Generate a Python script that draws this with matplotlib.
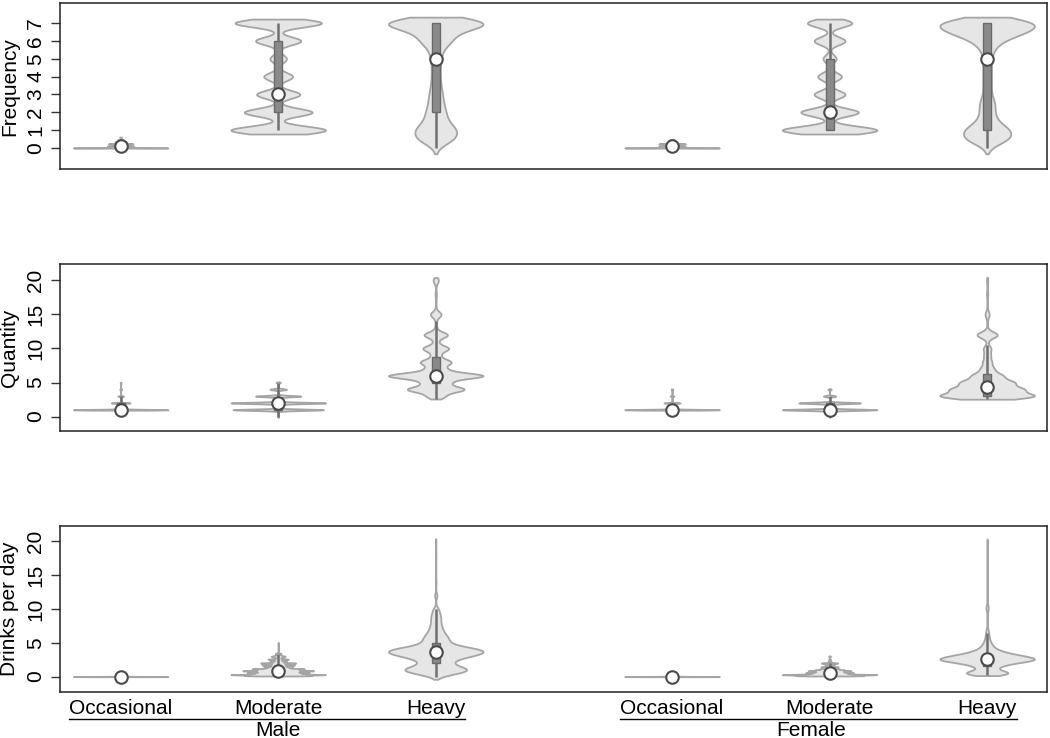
import numpy as np
import matplotlib
matplotlib.use("Agg")
import matplotlib.pyplot as plt
from matplotlib.lines import Line2D

plt.rcParams['font.family'] = ['Liberation Sans', 'DejaVu Sans']

# groups / categories
categories = ['Occasional', 'Moderate', 'Heavy', 'Occasional', 'Moderate', 'Heavy']
groups = ['Male', 'Female']
positions = [1, 2, 3, 4.5, 5.5, 6.5]

#############################################################################
#                   Frequency (days per week)
#############################################################################
freq_vals = [
    [0, 0.1, 0.23, 0.35, 0.47, 0.6],
    [1, 2, 3, 4, 5, 6, 7],
    [0, 0.5, 1, 1.5, 2, 2.5, 3, 3.5, 4, 4.5, 5, 5.5, 6, 6.5, 7],
    [0, 0.1, 0.23, 0.47],
    [1, 2, 3, 4, 5, 6, 7],
    [0, 0.5, 1, 1.5, 2, 2.5, 3, 3.5, 4, 4.5, 5, 5.5, 6, 6.5, 7],
]
freq_counts = [
    [100, 28, 26, 12, 6, 2],
    [46, 33, 21, 14, 8, 22, 42],
    [1, 12, 13, 7, 6, 4.5, 4, 3, 2.5, 2.5, 3, 4, 10, 12, 40],
    [100, 28, 28, 5],
    [46, 28, 15, 11.5, 6.4, 15, 21.6],
    [1, 15, 15, 6, 4.5, 5, 2.5, 2.5, 2.5, 2.5, 2.5, 4, 9, 25, 35],
]
freq_bw = [0.012, 0.22, 0.33, 0.012, 0.22, 0.33]
freq_med = [0.1, 3, 5, 0.1, 2, 5]
freq_q1 = [0, 2, 2, 0, 1, 1]
freq_q3 = [0.2, 6, 7, 0.2, 5, 7]
freq_wlo = [0, 1, 0, 0, 1, 0]
freq_whi = [0.4, 7, 7, 0.4, 7, 7]

#############################################################################
#                   Quantity (drinks per occasion)
#############################################################################
qty_int = list(range(3, 21))
qty_vals = [
    [1, 2, 3, 4, 5],
    [0, 1, 2, 3, 4, 5],
    qty_int,
    [1, 2, 3, 4],
    [0, 1, 2, 3, 4],
    qty_int,
]
qty_counts = [
    [100, 20, 6, 2, 1],
    [0.5, 44, 46, 22, 8, 2],
    [8, 26, 12, 44, 9, 14, 4, 12, 2, 11, 0.8, 0.6, 5, 0.3, 0.3, 0.6, 0.2, 2.5],
    [100, 17, 4, 2],
    [0.5, 46, 30, 6, 1.5],
    [44, 32, 24, 14, 6, 4, 3, 3.5, 0.3, 10, 0.3, 0.3, 2, 0.2, 0.2, 0.6, 0.2, 0.6],
]
qty_bw = [0.06, 0.1, 0.42, 0.06, 0.1, 0.45]
qty_med = [1, 2, 6, 1, 1, 4.4]
qty_q1 = [1, 1, 5, 1, 1, 3]
qty_q3 = [2, 2, 8.8, 1, 2, 6.3]
qty_wlo = [1, 0, 2.6, 1, 0, 2.6]
qty_whi = [3, 5, 14, 1, 3, 10.5]

#############################################################################
#                   Drinks per day
#############################################################################
mod_m_k = [1, 2, 3, 4, 5, 6, 7, 8, 9, 10, 11, 12, 13, 14, 15, 16, 17, 18, 19, 20, 21, 22, 23, 24, 35]
mod_m_c = [70, 100, 55, 65, 45, 75, 50, 55, 25, 30, 15, 35, 12, 38, 10, 18, 6, 22, 5, 10, 15, 8, 3, 6, 0.5]
mod_f_k = [1, 2, 3, 4, 5, 6, 7, 8, 9, 10, 11, 12, 14, 16, 18, 21]
mod_f_c = [70, 100, 40, 50, 30, 45, 30, 20, 12, 18, 6, 10, 18, 3, 2, 2]
heavy_m_v = [0, 0.5, 1, 1.5, 2, 2.5, 3, 3.5, 4, 4.5, 5, 5.5, 6, 6.5, 7, 7.5, 8, 8.5, 9, 9.5, 10,
             12, 14, 16, 18, 20]
heavy_m_c = [1, 6, 10, 6, 4, 5, 9, 13, 13, 6, 3.5, 3.5, 3, 2.2, 1.8, 1.5, 1.3, 1.3, 1.3, 0.9, 0.9,
             0.6, 0.15, 0.1, 0.1, 0.1]
heavy_f_v = [0.5, 1, 1.5, 2, 2.5, 3, 3.5, 4, 4.5, 5, 5.5, 6, 6.5, 7, 8, 9, 10, 10.5, 12, 14, 16, 18, 20]
heavy_f_c = [16, 4, 6, 13, 28, 20, 10, 5, 3, 2, 1.2, 1, 0.8, 0.5, 0.3, 0.3, 0.8, 0.5, 0.15, 0.1, 0.1, 0.1, 0.1]

dpd_vals = [
    [0, 0.04],
    [k / 7 for k in mod_m_k],
    heavy_m_v,
    [0, 0.04],
    [k / 7 for k in mod_f_k],
    heavy_f_v,
]
dpd_counts = [
    [100, 15],
    mod_m_c,
    heavy_m_c,
    [100, 15],
    mod_f_c,
    heavy_f_c,
]
dpd_bw = [0.02, 0.055, 0.4, 0.02, 0.055, 0.35]
dpd_med = [0, 0.86, 3.7, 0, 0.6, 2.6]
dpd_q1 = [0, 0.43, 2, 0, 0.29, 1.5]
dpd_q3 = [0, 1.43, 5, 0, 1, 3.3]
dpd_wlo = [0, 0.14, 0, 0, 0.14, 0.3]
dpd_whi = [0, 3.4, 10, 0, 2, 6.5]


def violin(ax, pos, vals, cnts, bw, half=0.3):
    vals = np.asarray(vals, float)
    cnts = np.asarray(cnts, float)
    grid = np.linspace(vals.min() - bw, vals.max() + bw, 1500)
    dens = (cnts[None, :] * np.exp(-0.5 * ((grid[:, None] - vals[None, :]) / bw) ** 2)).sum(axis=1)
    w = dens / dens.max() * half
    ax.fill_betweenx(grid, pos - w, pos + w, facecolor='#e6e6e6',
                     edgecolor='#a5a5a5', linewidth=1.3, zorder=2)


def panel(ax, vals, cnts, bws, med, q1, q3, wlo, whi):
    for i, p in enumerate(positions):
        violin(ax, p, vals[i], cnts[i], bws[i])
        ax.vlines(p, wlo[i], whi[i], color='#707070', linewidth=1.8, zorder=3)
        ax.bar(p, q3[i] - q1[i], bottom=q1[i], width=0.05, color='#8a8a8a',
               edgecolor='#6a6a6a', linewidth=1, zorder=4)
        ax.plot(p, med[i], 'o', mfc='white', mec='#4a4a4a', ms=9, mew=1.5, zorder=5)


fig = plt.figure(figsize=(10.5, 7.38), dpi=100)
rects = [
    [60 / 1050, 1 - 169 / 738, 987 / 1050, 165.6 / 738],
    [60 / 1050, 1 - 430.8 / 738, 987 / 1050, 166.3 / 738],
    [60 / 1050, 1 - 691.8 / 738, 987 / 1050, 165.6 / 738],
]
axes = [fig.add_axes(r) for r in rects]

panel(axes[0], freq_vals, freq_counts, freq_bw, freq_med, freq_q1, freq_q3, freq_wlo, freq_whi)
panel(axes[1], qty_vals, qty_counts, qty_bw, qty_med, qty_q1, qty_q3, qty_wlo, qty_whi)
panel(axes[2], dpd_vals, dpd_counts, dpd_bw, dpd_med, dpd_q1, dpd_q3, dpd_wlo, dpd_whi)

ylabels = ['Frequency', 'Quantity', 'Drinks per day']
yticks = [list(range(0, 8)), [0, 5, 10, 15, 20], [0, 5, 10, 15, 20]]
ylims = [(-1.18, 8.1), (-2.09, 22.33), (-2.25, 22.25)]

for ax, lab, yt, yl in zip(axes, ylabels, yticks, ylims):
    ax.set_xlim(0.615, 6.88)
    ax.set_ylim(*yl)
    ax.set_yticks(yt)
    ax.tick_params(axis='y', labelrotation=90, labelsize=15, length=6.8,
                   width=1, pad=4, color='#333333')
    for t in ax.get_yticklabels():
        t.set_va('center')
    ax.text(-0.051, 0.5, lab, rotation=90, transform=ax.transAxes,
            ha='center', va='center', fontsize=15)
    for s in ax.spines.values():
        s.set_linewidth(1.1)
        s.set_color('#222222')
    ax.set_xticks([])

axes[2].set_xticks(positions)
axes[2].set_xticklabels(categories, fontsize=15)
axes[2].tick_params(axis='x', length=0, pad=5)

# group underlines and labels
fig.canvas.draw()
inv = fig.transFigure.inverted()
labs = axes[2].get_xticklabels()
line_y = 1 - 718.5 / 738
label_x = [2, 5.385]
for g, name in enumerate(groups):
    b0 = labs[3 * g].get_window_extent().transformed(inv)
    b1 = labs[3 * g + 2].get_window_extent().transformed(inv)
    fig.add_artist(Line2D([b0.x0, b1.x1], [line_y, line_y], transform=fig.transFigure,
                          color='black', linewidth=1))
    xc = inv.transform(axes[2].transData.transform((label_x[g], 0)))[0]
    fig.text(xc, 1 - 720.5 / 738, name, ha='center', va='top', fontsize=15)

fig.savefig('out.png', dpi=100)
